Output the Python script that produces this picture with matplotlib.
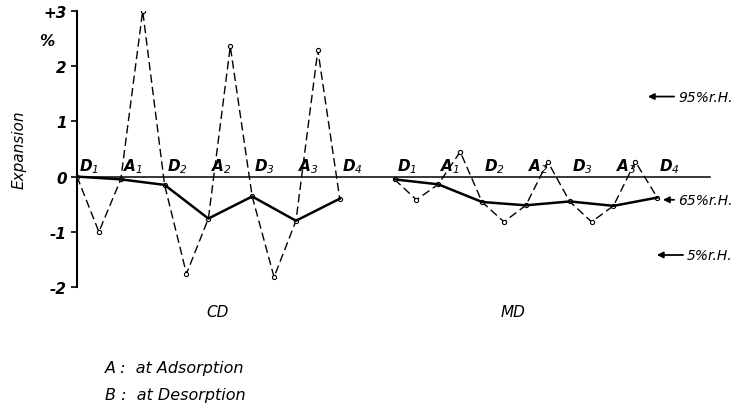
import numpy as np
import matplotlib
matplotlib.use("Agg")
import matplotlib.pyplot as plt

# values (expansion in %)
cd_steps = [0.0, -0.05, -0.15, -0.76, -0.36, -0.80, -0.40]   # D1 A1 D2 A2 D3 A3 D4 (65 % r.H.)
cd_swings = [-1.0, 3.0, -1.76, 2.36, -1.82, 2.29]           # 5 % / 95 % r.H. in between
md_steps = [-0.05, -0.14, -0.46, -0.52, -0.45, -0.53, -0.38]
md_swings = [-0.42, 0.45, -0.82, 0.27, -0.82, 0.27]
step_labels = ['D_1', 'A_1', 'D_2', 'A_2', 'D_3', 'A_3', 'D_4']
md_offset = 14.5
rh_labels = ['95%r.H.', '65%r.H.', '5%r.H.']
rh_levels = [1.45, -0.42, -1.42]
rh_tips = [26.07, 26.76, 26.48]


def interleave(steps, swings):
    out = []
    for s, w in zip(steps, swings):
        out += [s, w]
    out.append(steps[-1])
    return out


plt.rcParams['font.family'] = 'DejaVu Sans'
plt.rcParams['mathtext.fontset'] = 'custom'
plt.rcParams['mathtext.it'] = 'DejaVu Sans:italic:bold'
plt.rcParams['mathtext.rm'] = 'DejaVu Sans:italic'

fig = plt.figure(figsize=(7.36, 4.10), dpi=100)
ax = fig.add_axes([77 / 736, 122 / 410, 635 / 736, 276 / 410])

for steps, swings, x0 in [(cd_steps, cd_swings, 0.0), (md_steps, md_swings, md_offset)]:
    dashed = interleave(steps, swings)
    xd = x0 + np.arange(len(dashed))
    xs = x0 + 2 * np.arange(len(steps))
    ax.plot(xd, dashed, ls=(0, (6, 3)), color='black', lw=1.0,
            marker='o', ms=3, mfc='white', mec='black', mew=0.8)
    ax.plot(xs, steps, color='black', lw=1.8)
    for x, lab in zip(xs, step_labels):
        ax.text(x + 0.1, 0.03, '$' + lab + '$', fontsize=11,
                ha='left', va='bottom')

ax.axhline(0, xmax=28.9 / 29, color='black', lw=1.1)

ax.set_xlim(0, 29)
ax.set_ylim(-2, 3)
for side in ['top', 'right', 'bottom']:
    ax.spines[side].set_visible(False)
ax.spines['left'].set_linewidth(1.5)
ax.set_xticks([])
ax.set_yticks([-2, -1, 0, 1, 2, 3])
ax.set_yticklabels(['-2', '-1', '0', '1', '2', '+3'], fontsize=11,
                   fontweight='bold', fontstyle='italic')
ax.tick_params(axis='y', length=4, width=1.2)
ax.set_ylabel('Expansion', fontsize=11, fontstyle='italic', labelpad=12)

fig.text(47 / 736, 1 - 42 / 410, '%', fontsize=11, fontweight='bold',
         fontstyle='italic', ha='center', va='center')

ax.text(6.4, -2.45, 'CD', fontsize=11, fontstyle='italic', ha='center', va='center')
ax.text(19.9, -2.45, 'MD', fontsize=11, fontstyle='italic', ha='center', va='center')

# relative humidity markers on the right
for lab, y, tip in zip(rh_labels, rh_levels, rh_tips):
    ax.annotate(lab, xy=(tip, y), xycoords='data',
                xytext=(29.95, y), textcoords='data',
                fontsize=10, fontstyle='italic', ha='right', va='center',
                annotation_clip=False,
                arrowprops=dict(arrowstyle='-|>', color='black', lw=1.3,
                                mutation_scale=9, shrinkA=1, shrinkB=0))

fig.text(105 / 736, 1 - 369 / 410, 'A :  at Adsorption', fontsize=11.5,
         fontstyle='italic', ha='left', va='center')
fig.text(105 / 736, 1 - 396 / 410, 'B :  at Desorption', fontsize=11.5,
         fontstyle='italic', ha='left', va='center')

fig.savefig('out.png', dpi=100)
